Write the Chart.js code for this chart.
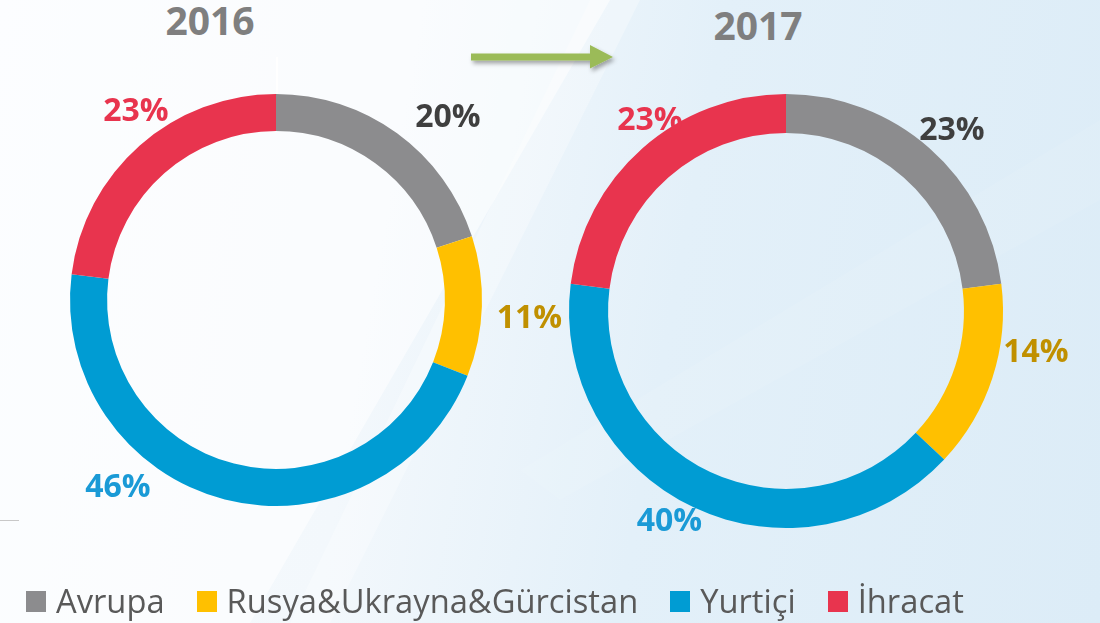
<!DOCTYPE html>
<html>
<head>
<meta charset="utf-8">
<title>Satış dağılımı 2016 - 2017</title>
<script src="https://cdn.jsdelivr.net/npm/chart.js@4"></script>
<style>
  html, body { margin: 0; padding: 0; }
  body {
    width: 1100px; height: 623px; overflow: hidden; position: relative;
    font-family: "Open Sans", sans-serif;
    background: linear-gradient(100deg, #f8fbfe 0%, #f3f8fc 35%, #e3f0f9 60%, #dcecf7 100%);
  }
  .haze { position: absolute; left: 0; top: 0; width: 1100px; height: 623px; }
  .haze.a { background: rgba(255,255,255,0.55); clip-path: polygon(0 0, 610px 0, 250px 623px, 0 623px); }
  .haze.b { background: rgba(255,255,255,0.3); clip-path: polygon(590px 0, 640px 0, 330px 623px, 290px 623px); }
  .haze.c { background: rgba(255,255,255,0.08); clip-path: polygon(1100px 120px, 1100px 200px, 560px 500px, 520px 470px); }
  canvas { position: absolute; left: 0; top: 0; }
  .year {
    position: absolute; transform: translateX(-50%);
    font-size: 39px; font-weight: 700; line-height: 1; color: #7f7f7f;
  }
  #arrow { position: absolute; left: 462px; top: 38px; }
  .tick { position: absolute; background: #fff; }
  .rule { position: absolute; left: 0; top: 520px; width: 19px; height: 1px; background: #c8c8c8; }
  #legend {
    position: absolute; left: 26px; top: 579px; display: flex; align-items: center;
    font-size: 32.7px; color: #595959; line-height: 44px;
  }
  #legend span.item { display: flex; align-items: center; margin-right: 32px; }
  #legend i { display: inline-block; width: 20px; height: 21px; margin-right: 10px; }
</style>
</head>
<body>
<div class="haze a"></div>
<div class="haze b"></div>
<div class="haze c"></div>
<div class="tick" style="left:276px; top:57px; width:2px; height:38px;"></div>
<div class="rule"></div>

<div class="year" style="left:210px; top:0px;" id="title0"></div>
<div class="year" style="left:758px; top:5px;" id="title1"></div>

<svg id="arrow" width="170" height="44">
  <defs>
    <filter id="shade" x="-10%" y="-40%" width="130%" height="200%">
      <feDropShadow dx="2" dy="3" stdDeviation="2" flood-color="#000" flood-opacity="0.35"/>
    </filter>
  </defs>
  <polygon filter="url(#shade)" fill="#9bbb59"
    points="9,15.5 128,15.5 128,7 151,19 128,30.5 128,22.5 9,22.5"/>
</svg>

<canvas id="c2016" width="1100" height="623"></canvas>
<canvas id="c2017" width="1100" height="623"></canvas>

<div id="legend"></div>

<script>
const categories = ["Avrupa", "Rusya&Ukrayna&Gürcistan", "Yurtiçi", "İhracat"];
const years = ["2016", "2017"];
const share2016 = [20, 11, 46, 23];
const share2017 = [23, 14, 40, 23];

const sliceColors = ["#8c8c8e", "#ffc000", "#009cd3", "#e8344e"];
const labelColors = ["#3f3f3f", "#c09000", "#1a9ad6", "#e8344e"];

// percent labels outside the ring, nudged from the slice middle by [degrees, px past outer edge]
const pctLabels = {
  id: "pctLabels",
  afterDatasetsDraw(chart, args, opts) {
    const ctx = chart.ctx;
    const meta = chart.getDatasetMeta(0);
    const values = chart.data.datasets[0].data;
    ctx.save();
    ctx.font = "bold 32px 'Open Sans'";
    ctx.textAlign = "center";
    ctx.textBaseline = "alphabetic";
    meta.data.forEach(function (arc, i) {
      const p = arc.getProps(["x", "y", "startAngle", "endAngle", "outerRadius"], true);
      const shift = opts.offsets[i][0], gap = opts.offsets[i][1];
      const a = (p.startAngle + p.endAngle) / 2 + shift * Math.PI / 180;
      const r = p.outerRadius + gap;
      ctx.fillStyle = labelColors[i];
      ctx.fillText(values[i] + "%", p.x + r * Math.cos(a), p.y + r * Math.sin(a) + 11);
    });
    ctx.restore();
  }
};

function ring(id, values, padding, offsets) {
  return new Chart(document.getElementById(id), {
    type: "doughnut",
    data: {
      labels: categories,
      datasets: [{ data: values, backgroundColor: sliceColors, borderWidth: 0 }]
    },
    options: {
      responsive: false,
      animation: false,
      cutout: "82%",
      layout: { padding: padding },
      plugins: {
        legend: { display: false },
        tooltip: { enabled: false },
        pctLabels: { offsets: offsets }
      }
    },
    plugins: [pctLabels]
  });
}

ring("c2017", share2017, { left: 569, top: 94, right: 97, bottom: 95 },
  [[1, 29], [-9, 36], [4, 22], [6, 18]]);
ring("c2016", share2016, { left: 70, top: 94, right: 618, bottom: 117 },
  [[7, 46], [2, 48], [26, 38], [5, 30]]);

document.getElementById("title0").textContent = years[0];
document.getElementById("title1").textContent = years[1];

const legend = document.getElementById("legend");
categories.forEach(function (name, i) {
  const item = document.createElement("span");
  item.className = "item";
  const box = document.createElement("i");
  box.style.background = sliceColors[i];
  item.appendChild(box);
  item.appendChild(document.createTextNode(name));
  legend.appendChild(item);
});
</script>
</body>
</html>
